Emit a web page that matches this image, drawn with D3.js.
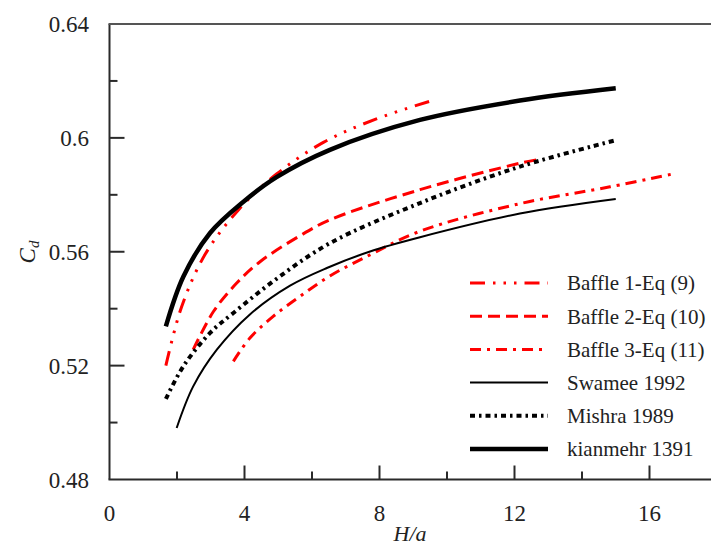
<!DOCTYPE html>
<html>
<head>
<meta charset="utf-8">
<script src="https://cdn.jsdelivr.net/npm/d3@7"></script>
<style>
  html, body { margin: 0; padding: 0; background: #fff; }
  svg { display: block; }
</style>
</head>
<body>
<svg id="chart" width="711" height="550"></svg>
<script>
// ---- Data ----
const seriesNames = ["Baffle 1-Eq (9)", "Baffle 2-Eq (10)", "Baffle 3-Eq (11)", "Swamee 1992", "Mishra 1989", "kianmehr 1391"];

const baffle1X = [1.67, 2.14, 2.83, 3.82, 4.95, 6.35, 7.87, 9.5];
const baffle1Y = [0.520, 0.5408, 0.559, 0.5747, 0.5873, 0.5985, 0.6065, 0.6129];

const baffle2X = [2.48, 3.08, 3.77, 4.46, 5.64, 6.53, 9.2, 12.16, 12.75];
const baffle2Y = [0.5256, 0.539, 0.549, 0.5565, 0.5656, 0.5712, 0.5818, 0.5911, 0.5925];

const baffle3X = [3.67, 4.16, 4.85, 5.64, 6.53, 7.52, 9.2, 12.16, 14.83, 16.8];
const baffle3Y = [0.5215, 0.5297, 0.5373, 0.5443, 0.5515, 0.5577, 0.5672, 0.5769, 0.5828, 0.5876];

const swameeX = [1.99, 2.48, 3.18, 4.16, 5.35, 6.44, 7.72, 9.2, 12.16, 15.0];
const swameeY = [0.4981, 0.5127, 0.5256, 0.538, 0.5481, 0.5543, 0.5601, 0.5651, 0.5734, 0.5785];

const mishraX = [1.67, 2.19, 2.98, 3.67, 4.95, 6.53, 9.2, 12.16, 14.98];
const mishraY = [0.5083, 0.5198, 0.5315, 0.5385, 0.5505, 0.563, 0.5771, 0.5899, 0.5991];

const kianX = [1.67, 2.19, 2.98, 3.96, 4.95, 6.53, 9.2, 12.16, 15.0];
const kianY = [0.5338, 0.5513, 0.5666, 0.5775, 0.5862, 0.5958, 0.6063, 0.6131, 0.6174];

const xMajorTicks = [0, 4, 8, 12, 16];
const xMinorTicks = [2, 6, 10, 14];
const yMajorTicks = [0.48, 0.52, 0.56, 0.6, 0.64];
const yMinorTicks = [0.50, 0.54, 0.58, 0.62];
const yTickLabels = ["0.48", "0.52", "0.56", "0.6", "0.64"];

// ---- Styles ----
const styles = [
  { color: "#ff0000", width: 3, dash: "15,8,2.5,8,2.5,8,2.5,8" },
  { color: "#ff0000", width: 3, dash: "12,6" },
  { color: "#ff0000", width: 3, dash: "11,6,3,6" },
  { color: "#000000", width: 2, dash: null },
  { color: "#000000", width: 4, dash: "5,4,2.5,4" },
  { color: "#000000", width: 4.5, dash: null }
];

const xs = [baffle1X, baffle2X, baffle3X, swameeX, mishraX, kianX];
const ys = [baffle1Y, baffle2Y, baffle3Y, swameeY, mishraY, kianY];

// ---- Scales ----
const plotLeft = 109.5, plotTop = 24, plotBottom = 479.5;
const x = d3.scaleLinear().domain([0, 18]).range([plotLeft, plotLeft + 18 * 33.75]);
const y = d3.scaleLinear().domain([0.48, 0.64]).range([plotBottom, plotTop]);

const svg = d3.select("#chart");
const axisColor = "#2a2a2a";
const FONT = "'Liberation Serif', 'DejaVu Serif', serif";
function txt(sel) { return sel.style("font-family", FONT).style("fill", "#222"); }

// Axes lines
const g = svg.append("g");
g.append("line").attr("x1", plotLeft).attr("x2", plotLeft).attr("y1", plotTop).attr("y2", plotBottom)
  .attr("stroke", axisColor).attr("stroke-width", 2);
g.append("line").attr("x1", plotLeft - 1).attr("x2", 711).attr("y1", plotBottom).attr("y2", plotBottom)
  .attr("stroke", axisColor).attr("stroke-width", 2);
g.append("line").attr("x1", plotLeft - 1).attr("x2", 711).attr("y1", plotTop).attr("y2", plotTop)
  .attr("stroke", "#555").attr("stroke-width", 2);

// Y ticks
yMajorTicks.forEach((t, i) => {
  if (i > 0 && i < yMajorTicks.length - 1)
    g.append("line").attr("x1", plotLeft).attr("x2", plotLeft + 15).attr("y1", y(t)).attr("y2", y(t))
      .attr("stroke", axisColor).attr("stroke-width", 2);
  txt(g.append("text")).attr("x", 89).attr("y", y(t)).attr("dy", "0.35em")
    .attr("text-anchor", "end").attr("font-size", 23).text(yTickLabels[i]);
});
yMinorTicks.forEach(t => {
  g.append("line").attr("x1", plotLeft).attr("x2", plotLeft + 8).attr("y1", y(t)).attr("y2", y(t))
    .attr("stroke", axisColor).attr("stroke-width", 2);
});
// X ticks
xMajorTicks.forEach(t => {
  if (t > 0)
    g.append("line").attr("x1", x(t)).attr("x2", x(t)).attr("y1", plotBottom).attr("y2", plotBottom - 14)
      .attr("stroke", axisColor).attr("stroke-width", 2);
  txt(g.append("text")).attr("x", x(t)).attr("y", 521).attr("text-anchor", "middle")
    .attr("font-size", 23).text(d3.format("d")(t));
});
xMinorTicks.forEach(t => {
  g.append("line").attr("x1", x(t)).attr("x2", x(t)).attr("y1", plotBottom).attr("y2", plotBottom - 8)
    .attr("stroke", axisColor).attr("stroke-width", 2);
});

// Axis titles
txt(svg.append("text")).attr("x", 410).attr("y", 541).attr("text-anchor", "middle")
  .attr("font-size", 22).attr("font-style", "italic").text("H/a");
const yt = txt(svg.append("text")).attr("transform", "translate(35,252) rotate(-90)")
  .attr("text-anchor", "middle").attr("font-size", 23).attr("font-style", "italic");
yt.append("tspan").text("C");
yt.append("tspan").attr("font-size", 15).attr("dy", 4).text("d");

// Curves
const line = d3.line().x(d => x(d[0])).y(d => y(d[1])).curve(d3.curveCatmullRom.alpha(0.5));
const curves = svg.append("g");
seriesNames.forEach((name, i) => {
  const pts = xs[i].map((v, j) => [v, ys[i][j]]);
  const s = styles[i];
  curves.append("path").datum(pts).attr("d", line)
    .attr("fill", "none").attr("stroke", s.color).attr("stroke-width", s.width)
    .attr("stroke-dasharray", s.dash).attr("stroke-linecap", "butt");
});

// Legend
const legend = svg.append("g");
const legendY0 = 283, legendStep = 33.2;
seriesNames.forEach((name, i) => {
  const s = styles[i];
  const ly = legendY0 + i * legendStep;
  legend.append("line").attr("x1", 470).attr("x2", 548).attr("y1", ly).attr("y2", ly)
    .attr("stroke", s.color).attr("stroke-width", s.width).attr("stroke-dasharray", s.dash);
  txt(legend.append("text")).attr("x", 567).attr("y", ly).attr("dy", "0.35em")
    .attr("font-size", 21).text(name);
});
</script>
</body>
</html>
